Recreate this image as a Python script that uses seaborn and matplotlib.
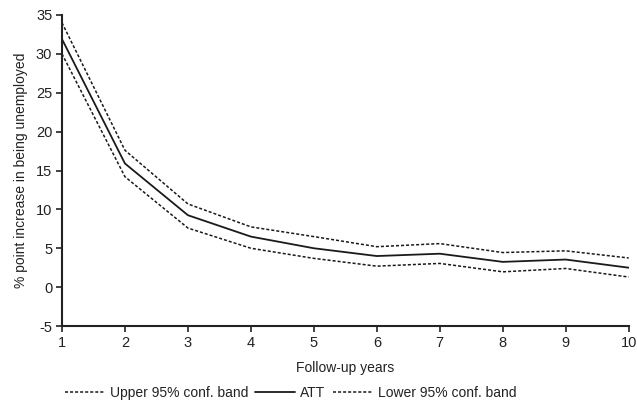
import matplotlib
matplotlib.use("Agg")
import matplotlib.pyplot as plt
import seaborn as sns
import pandas as pd

years = [1, 2, 3, 4, 5, 6, 7, 8, 9, 10]
upper = [34.0, 17.6, 10.7, 7.75, 6.5, 5.2, 5.6, 4.45, 4.67, 3.75]
att = [31.9, 15.9, 9.25, 6.5, 5.0, 4.0, 4.3, 3.25, 3.55, 2.5]
lower = [30.0, 14.2, 7.6, 5.0, 3.7, 2.7, 3.05, 1.97, 2.4, 1.3]
series_names = ["Upper 95% conf. band", "ATT", "Lower 95% conf. band"]

sns.set_theme(style="white")
plt.rcParams["font.family"] = ["Liberation Sans", "DejaVu Sans"]
plt.rcParams["axes.unicode_minus"] = False

fig = plt.figure(figsize=(6.37, 4.05), dpi=100)
ax = fig.add_axes([0.0973, 0.195, 0.8897, 0.768])

dotted = (0, (2.0, 1.3))
styles = [dotted, "-", dotted]
widths = [1.1, 1.3, 1.1]
for name, vals, ls, lw in zip(series_names, [upper, att, lower], styles, widths):
    df = pd.DataFrame({"year": years, "value": vals})
    sns.lineplot(data=df, x="year", y="value", ax=ax, color="#1a1a1a",
                 linestyle=ls, linewidth=lw, label=name)

ax.set_xlim(1, 10)
ax.set_ylim(-5, 35)
ax.set_xticks(years)
ax.set_yticks(range(-5, 36, 5))
ax.tick_params(axis="both", direction="out", length=4, width=1.2,
               color="#222222", labelsize=10.5, labelcolor="#222222", pad=3)
ax.tick_params(axis="x", bottom=True)
ax.tick_params(axis="y", left=True)
for side in ["top", "right"]:
    ax.spines[side].set_visible(False)
for side in ["left", "bottom"]:
    ax.spines[side].set_color("#222222")
    ax.spines[side].set_linewidth(1.5)

ax.set_xlabel("Follow-up years", fontsize=10, color="#222222", labelpad=8)
ax.set_ylabel("% point increase in being unemployed", fontsize=10,
              color="#222222", labelpad=6)

handles, labels = ax.get_legend_handles_labels()
ax.legend_.remove()
fig.legend(handles, labels, loc="center", bbox_to_anchor=(0.456, 0.03),
           ncol=3, frameon=False, fontsize=10, handlelength=2.9,
           columnspacing=0.5, handletextpad=0.35, labelcolor="#222222")

fig.savefig("out.png", dpi=100)
